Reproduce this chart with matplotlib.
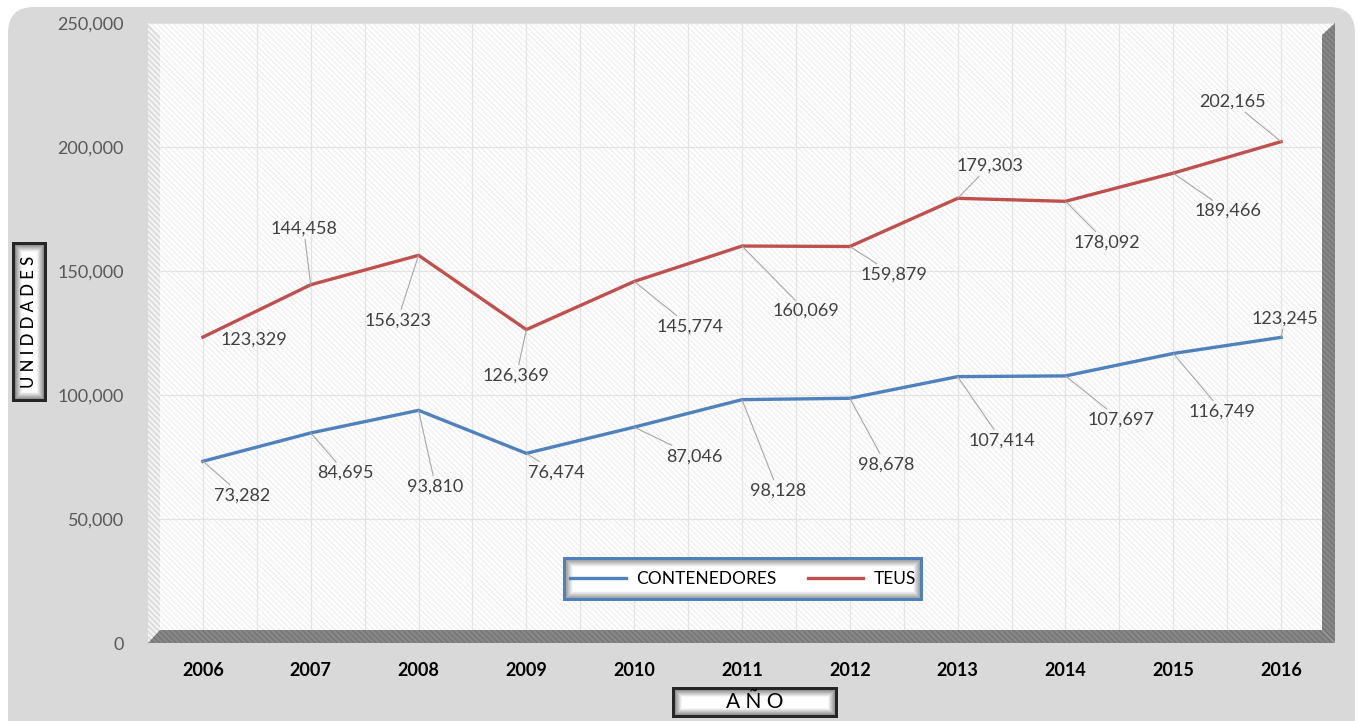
#!/usr/bin/env python3
import numpy as np
import matplotlib
matplotlib.use("Agg")
import matplotlib.pyplot as plt
import matplotlib.colors as mcolors
import matplotlib.transforms as mtransforms
from matplotlib.patches import Polygon, FancyBboxPatch

# Data
years = ["2006", "2007", "2008", "2009", "2010", "2011",
         "2012", "2013", "2014", "2015", "2016"]
contenedores = [73282, 84695, 93810, 76474, 87046, 98128,
                98678, 107414, 107697, 116749, 123245]
teus = [123329, 144458, 156323, 126369, 145774, 160069,
        159879, 179303, 178092, 189466, 202165]
y_ticks = [0, 50000, 100000, 150000, 200000, 250000]

# label offsets in pixels (right, down) from each point
off_cont = [(39, 34), (35, 40), (17, 76), (30, 19), (60, 29), (36, 91),
            (36, 66), (44, 64), (55, 44), (49, 58), (4, -19)]
off_teus = [(51, 2), (-7, -56), (-21, 65), (-10, 46), (56, 45), (64, 65),
            (44, 28), (32, -33), (41, 41), (55, 38), (-49, -40)]

W, H = 1358, 721
BLUE = "#4f81bd"
RED = "#c0504d"
HATCH = "\\\\\\\\\\\\"

plt.rcParams['font.family'] = ['Lato', 'DejaVu Sans']
plt.rcParams['hatch.linewidth'] = 0.8

fig = plt.figure(figsize=(W / 100, H / 100), dpi=100)
fig.patch.set_facecolor("white")

# pixel transform (origin top-left)
px = mtransforms.Affine2D().scale(1 / W, -1 / H).translate(0, 1) + fig.transFigure

# background axes in pixel coordinates
bg = fig.add_axes([0, 0, 1, 1], zorder=0)
bg.set_xlim(0, W)
bg.set_ylim(H, 0)
bg.axis("off")
bg.add_patch(FancyBboxPatch((8, 7), 1347, 740, boxstyle="round,pad=0,rounding_size=26",
                            facecolor="#d9d9d9", edgecolor="none"))
# back wall
wall = [(148, 23), (1335, 23), (1335, 643), (148, 643)]
bg.add_patch(Polygon(wall, facecolor="white", edgecolor="none"))
bg.add_patch(Polygon(wall, facecolor="none", edgecolor="#ececec", hatch=HATCH, lw=0))

# data axes
ax = fig.add_axes([149 / W, 1 - 643 / H, (1335 - 149) / W, (643 - 23) / H], zorder=1)
ax.patch.set_alpha(0)
x = np.arange(len(years))
ax.set_xlim(-0.5, len(years) - 0.5)
ax.set_ylim(0, 250000)
ax.set_xticks(x)
ax.set_xticklabels(years, fontsize=13, fontweight="bold", color="black")
ax.set_xticks(x[:-1] + 0.5, minor=True)
ax.set_yticks(y_ticks)
ax.set_yticklabels([f"{v:,}" for v in y_ticks], fontsize=13, color="#595959")
ax.tick_params(axis="both", which="both", length=0)
ax.tick_params(axis="y", pad=18)
ax.tick_params(axis="x", pad=14)
for s in ax.spines.values():
    s.set_visible(False)
ax.set_axisbelow(True)
ax.grid(True, which="both", color="#e3e3e3", lw=0.9)

# 3D walls drawn over the grid ends
side = [(148, 23), (160, 35), (160, 630), (148, 643)]
floor = [(148, 643), (160, 630), (1322, 630), (1335, 643)]
right = [(1322, 35), (1335, 23), (1335, 643), (1322, 630)]
for poly, face, hatchc in [(side, "#f2f2f2", "#d2d2d2"),
                           (floor, "#878787", "#727272"),
                           (right, "#878787", "#727272")]:
    ax.add_patch(Polygon(poly, transform=px, facecolor=face, edgecolor="none",
                         clip_on=False, zorder=1))
    ax.add_patch(Polygon(poly, transform=px, facecolor="none", edgecolor=hatchc,
                         hatch=HATCH, lw=0, clip_on=False, zorder=1))

l1, = ax.plot(x, contenedores, color=BLUE, lw=2.4, zorder=3, solid_joinstyle="miter")
l2, = ax.plot(x, teus, color=RED, lw=2.4, zorder=3, solid_joinstyle="miter")

# data labels with leader lines
for vals, offs in [(contenedores, off_cont), (teus, off_teus)]:
    for xi, v, (dx, dy) in zip(x, vals, offs):
        arrow = None
        if abs(dy) > 15:
            arrow = dict(arrowstyle="-", color="#a6a6a6", lw=0.8, shrinkA=0, shrinkB=0)
        ax.annotate(f"{v:,}", xy=(xi, v), xytext=(dx * 0.72, -dy * 0.72),
                    textcoords="offset points", ha="center", va="center",
                    fontsize=13, color="#404040", arrowprops=arrow, zorder=4)


def bevel(x0, y0, x1, y1, edge, z, inner=0.62):
    w, h = x1 - x0, y1 - y0
    a = fig.add_axes([x0 / W, 1 - y1 / H, w / W, h / H], zorder=z)
    a.axis("off")
    xx, yy = np.meshgrid(np.arange(w) + 0.5, np.arange(h) + 0.5)
    d = np.minimum.reduce([xx, w - xx, yy, h - yy])
    shade = inner + (1 - inner) * np.clip((d - 3) / 7, 0, 1)
    img = np.dstack([shade] * 3)
    img[d < 3] = mcolors.to_rgb(edge)
    a.imshow(img, extent=(0, w, h, 0), interpolation="bilinear", aspect="auto")
    a.set_xlim(0, w)
    a.set_ylim(h, 0)
    return a


# legend box
bevel(563, 557, 923, 601, BLUE, 2)
fig.legend([l1, l2], ["CONTENEDORES", "TEUS"], loc="center",
           bbox_to_anchor=(743 / W, 1 - 579 / H), ncol=2, frameon=False,
           fontsize=12.5, handlelength=3.2, columnspacing=1.8, handletextpad=0.6)

# axis titles in beveled boxes
ya = bevel(12, 242, 46, 402, "#262626", 2, inner=0.55)
ya.text(0.5, 0.5, "U N I D D A D E S", transform=ya.transAxes, rotation=90,
        ha="center", va="center", fontsize=12, fontweight="medium", color="black")
xa = bevel(672, 687, 838, 718, "#262626", 2, inner=0.55)
xa.text(0.5, 0.5, "A Ñ O", transform=xa.transAxes, ha="center", va="center",
        fontsize=15, color="black")

fig.savefig("out.png", dpi=100)
